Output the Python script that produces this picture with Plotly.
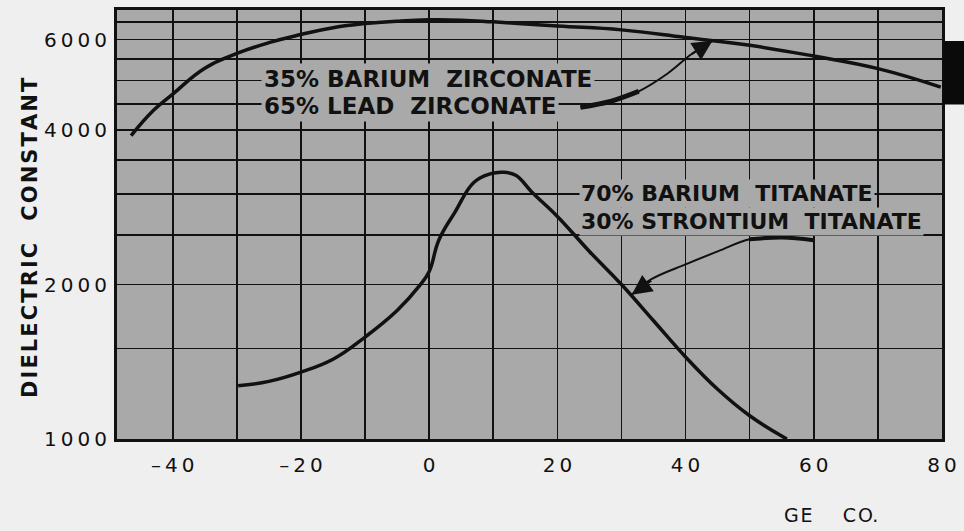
import math
import plotly.graph_objects as go

# ---- data ----
zr_temp = [-46.5, -43.0, -40.0, -35.0, -30.0, -25.0, -20.0, -15.0, -10.0, -5.0, 0.0, 5.0, 10.0, 20.0, 30.0, 40.0, 50.0, 60.0, 70.0, 79.8]
zr_k = [3900, 4370, 4700, 5280, 5640, 5920, 6140, 6330, 6450, 6520, 6560, 6550, 6500, 6380, 6270, 6060, 5850, 5575, 5270, 4850]

ti_temp = [-29.8, -25.0, -20.0, -15.0, -10.0, -5.0, -1.5, 0.0, 1.5, 4.0, 7.0, 9.5, 11.5, 13.5, 16.0, 20.0, 25.0, 30.0, 35.0, 40.0, 45.0, 50.0, 55.8]
ti_k = [1270, 1295, 1350, 1430, 1580, 1780, 1990, 2120, 2440, 2765, 3165, 3285, 3310, 3265, 3030, 2715, 2320, 2000, 1700, 1445, 1250, 1110, 1000]

# leader arrows (label -> curve)
zr_arrow_t = [23.6, 28.3, 32.7, 37.2, 40.9, 44.2]
zr_arrow_k = [4430, 4550, 4760, 5155, 5620, 5970]
ti_arrow_t = [60.0, 55.1, 50.0, 45.1, 40.0, 34.6, 31.6]
ti_arrow_k = [2440, 2470, 2450, 2323, 2189, 2046, 1911]

x_tickvals = [-40, -30, -20, -10, 0, 10, 20, 30, 40, 50, 60, 70, 80]
x_ticktext = ["\u2013\u20094\u20090", "", "\u2013\u20092\u20090", "", "0", "", "2\u20090", "", "4\u20090", "", "6\u20090", "", "8\u20090"]
y_tickvals = [1000, 1500, 2000, 2500, 3000, 3500, 4000, 4500, 5000, 5500, 6000, 6500]
y_ticktext = ["1\u20090\u20090\u20090", "", "2\u20090\u20090\u20090", "", "", "", "4\u20090\u20090\u20090", "", "", "", "6\u20090\u20090\u20090", ""]

zr_lines = ["35%\u00a0BARIUM\u00a0\u00a0ZIRCONATE", "65%\u00a0LEAD\u00a0\u00a0ZIRCONATE"]
zr_line_k = [5040, 4450]
ti_lines = ["70%\u00a0BARIUM\u00a0\u00a0TITANATE", "30%\u00a0STRONTIUM\u00a0\u00a0TITANATE"]
ti_line_k = [3005, 2655]
y_title = "\u200a".join("DIELECTRIC") + "\u00a0\u00a0\u00a0" + "\u200a".join("CONSTANT")
credit = "G\u200aE\u00a0\u00a0\u00a0\u00a0\u00a0C\u200aO."

PLOT_BG = "#a9a9a9"
PAPER_BG = "#efefef"
INK = "#111111"
FONT = "DejaVu Sans"

fig = go.Figure()

fig.add_trace(go.Scatter(x=zr_temp, y=zr_k, mode="lines",
                         line=dict(color=INK, width=3.5, shape="spline", smoothing=1.3),
                         showlegend=False, hoverinfo="skip"))
fig.add_trace(go.Scatter(x=ti_temp, y=ti_k, mode="lines",
                         line=dict(color=INK, width=3.5, shape="spline", smoothing=1.2),
                         showlegend=False, hoverinfo="skip"))

# arrow shafts
fig.add_trace(go.Scatter(x=zr_arrow_t, y=zr_arrow_k, mode="lines",
                         line=dict(color=INK, width=2, shape="spline"),
                         showlegend=False, hoverinfo="skip"))
fig.add_trace(go.Scatter(x=zr_arrow_t[:3], y=zr_arrow_k[:3], mode="lines",
                         line=dict(color=INK, width=5, shape="spline"),
                         showlegend=False, hoverinfo="skip"))
fig.add_trace(go.Scatter(x=ti_arrow_t, y=ti_arrow_k, mode="lines",
                         line=dict(color=INK, width=2, shape="spline"),
                         showlegend=False, hoverinfo="skip"))
fig.add_trace(go.Scatter(x=ti_arrow_t[:3], y=ti_arrow_k[:3], mode="lines",
                         line=dict(color=INK, width=4, shape="spline"),
                         showlegend=False, hoverinfo="skip"))

annotations = [
    # arrow heads
    dict(x=zr_arrow_t[-1], y=math.log10(zr_arrow_k[-1]), xref="x", yref="y", text="",
         showarrow=True, arrowhead=2, arrowsize=2, arrowwidth=2, arrowcolor=INK,
         ax=-22, ay=14, standoff=0),
    dict(x=ti_arrow_t[-1], y=math.log10(ti_arrow_k[-1]), xref="x", yref="y", text="",
         showarrow=True, arrowhead=2, arrowsize=2, arrowwidth=2, arrowcolor=INK,
         ax=21, ay=-15, standoff=0),
    # axis title
    dict(x=-0.1047, y=0.47, xref="paper", yref="paper", text=y_title, showarrow=False,
         textangle=-90, xanchor="center", yanchor="middle",
         font=dict(family=FONT, size=21, color=INK, weight="bold")),
    # credit
    dict(x=0.866, y=-0.176, xref="paper", yref="paper", text=credit, showarrow=False,
         xanchor="center", yanchor="middle",
         font=dict(family=FONT, size=19, color=INK)),
]
# curve labels, one box per line so the leader tails stay visible
for txt, k in zip(zr_lines, zr_line_k):
    annotations.append(dict(x=-26.3, y=math.log10(k), xref="x", yref="y", text=txt, showarrow=False,
                            xanchor="left", yanchor="middle", align="left", bgcolor=PLOT_BG, borderpad=2,
                            font=dict(family=FONT, size=23, color=INK, weight="bold")))
for txt, k in zip(ti_lines, ti_line_k):
    annotations.append(dict(x=23.3, y=math.log10(k), xref="x", yref="y", text=txt, showarrow=False,
                            xanchor="left", yanchor="middle", align="left", bgcolor=PLOT_BG, borderpad=1,
                            font=dict(family=FONT, size=22, color=INK, weight="bold")))

fig.update_layout(
    width=964, height=531, autosize=False,
    margin=dict(l=117, r=10, t=7, b=92),
    paper_bgcolor=PAPER_BG,
    plot_bgcolor=PLOT_BG,
    annotations=annotations,
    shapes=[dict(type="rect", xref="paper", yref="paper", x0=1.001, x1=1.03,
                 y0=0.78, y1=0.928, fillcolor="#0a0a0a", line=dict(width=0), layer="above")],
    xaxis=dict(range=[-48.7, 80.0], tickmode="array", tickvals=x_tickvals, ticktext=x_ticktext,
               showgrid=True, gridcolor=INK, gridwidth=1.6, zeroline=False,
               showline=True, linecolor=INK, linewidth=3, mirror=True, ticks="",
               ticklabelstandoff=6, ticklabeloverflow="allow",
               tickfont=dict(family=FONT, size=20, color=INK)),
    yaxis=dict(type="log", range=[3.0, 3.836], tickmode="array", tickvals=y_tickvals, ticktext=y_ticktext,
               showgrid=True, gridcolor=INK, gridwidth=1.6, zeroline=False,
               showline=True, linecolor=INK, linewidth=3, mirror=True, ticks="",
               ticklabelstandoff=3, ticklabeloverflow="allow",
               tickfont=dict(family=FONT, size=20, color=INK)),
)

fig.write_html("out.html",
               config={"responsive": False, "displayModeBar": False, "staticPlot": True},
               post_script="document.body.style.margin='0';document.body.style.overflow='hidden';"
                           "document.body.style.background='#efefef';")
